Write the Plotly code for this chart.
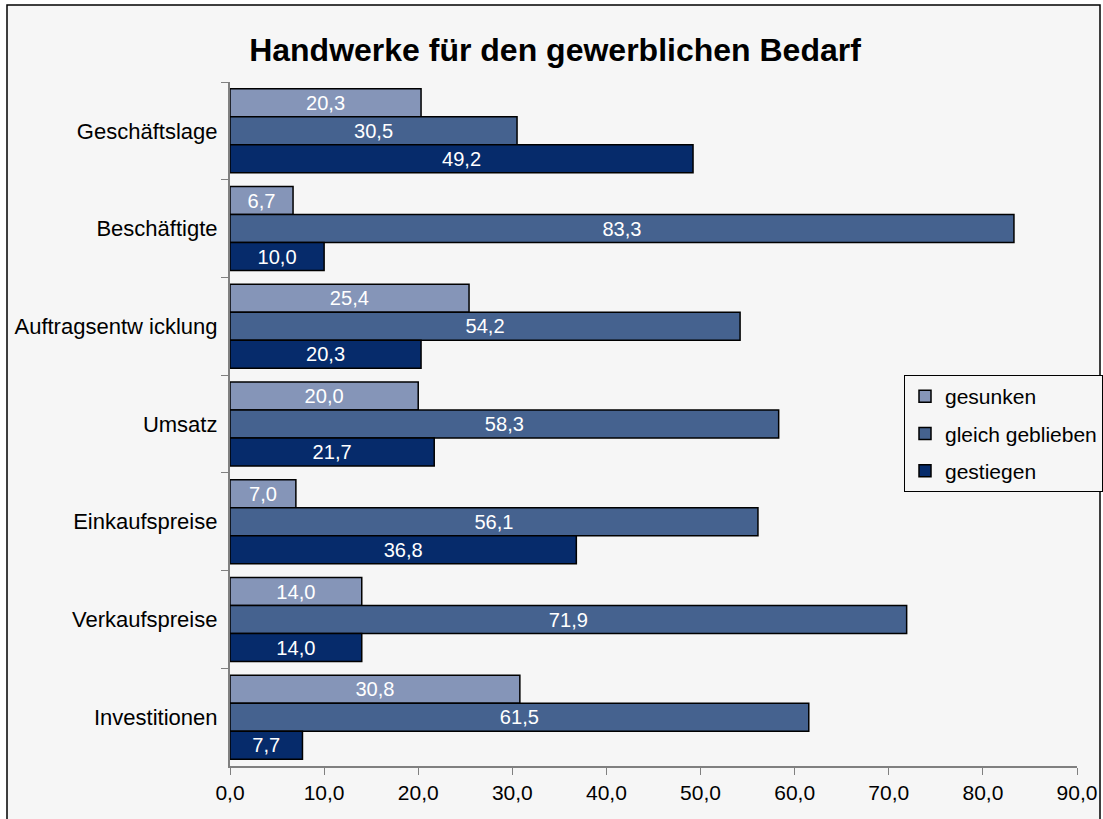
import plotly.graph_objects as go

categories = ["Geschäftslage", "Beschäftigte", "Auftragsentwicklung", "Umsatz",
              "Einkaufspreise", "Verkaufspreise", "Investitionen"]
cat_labels = ["Geschäftslage", "Beschäftigte", "Auftragsentw icklung", "Umsatz",
              "Einkaufspreise", "Verkaufspreise", "Investitionen"]
gesunken = [20.3, 6.7, 25.4, 20.0, 7.0, 14.0, 30.8]
gleich = [30.5, 83.3, 54.2, 58.3, 56.1, 71.9, 61.5]
gestiegen = [49.2, 10.0, 20.3, 21.7, 36.8, 14.0, 7.7]
series_names = ["gesunken", "gleich geblieben", "gestiegen"]
colors = ["#8595B8", "#45628F", "#062B6B"]
x_ticks = [0, 10, 20, 30, 40, 50, 60, 70, 80, 90]
x_tick_labels = ["0,0", "10,0", "20,0", "30,0", "40,0", "50,0", "60,0", "70,0", "80,0", "90,0"]

FONT = "Liberation Sans, Arial, sans-serif"
FS = 21

fig = go.Figure()
for name, vals, col in zip(series_names, [gesunken, gleich, gestiegen], colors):
    fig.add_trace(go.Bar(
        y=cat_labels, x=vals, name=name, orientation="h",
        marker=dict(color=col, line=dict(color="black", width=1.5)),
        text=[f"{v:.1f}".replace(".", ",") for v in vals],
        textposition="inside", insidetextanchor="middle",
        textfont=dict(color="white", size=FS, family=FONT),
        legendgroup=name,
    ))

W, H = 1103, 819
L, R, T, B = 230, 26, 82, 53
pw, ph = W - L - R, H - T - B

def px2x(px):
    return (px - L) / pw

def py2y(py):
    return (H - B - py) / ph

fig.update_layout(
    width=W, height=H,
    margin=dict(l=L, r=R, t=T, b=B, autoexpand=False),
    paper_bgcolor="white",
    plot_bgcolor="rgba(0,0,0,0)",
    barmode="group", bargap=0.14, bargroupgap=0,
    font=dict(family=FONT, color="black", size=FS),
    title=dict(text="<b>Handwerke für den gewerblichen Bedarf</b>",
               x=555 / W, xanchor="center", y=1 - 50 / H, yanchor="middle",
               font=dict(size=32, family=FONT, color="black")),
    xaxis=dict(range=[0, 90], tickvals=x_ticks, ticktext=x_tick_labels,
               showgrid=False, zeroline=False, showline=True, linecolor="#808080",
               linewidth=2, ticks="outside", ticklen=7, tickcolor="#808080",
               tickfont=dict(size=FS, family=FONT), fixedrange=True),
    yaxis=dict(autorange="reversed", showgrid=False, zeroline=False, showline=True,
               linecolor="#808080", linewidth=2, ticks="outside", ticklen=7,
               tickcolor="#808080", tickson="boundaries",
               tickfont=dict(size=22, family=FONT), ticksuffix=" "),
    legend=dict(x=px2x(904), y=py2y(375), xanchor="left", yanchor="top",
                bordercolor="black", borderwidth=1, bgcolor="#F6F6F6",
                font=dict(size=FS, family=FONT), traceorder="grouped",
                tracegroupgap=7, itemwidth=30),
    shapes=[dict(type="rect", xref="paper", yref="paper",
                 x0=px2x(7), x1=px2x(1100), y0=py2y(840), y1=py2y(5),
                 line=dict(color="black", width=1.5), fillcolor="#F6F6F6",
                 layer="below")],
)

fig.write_html("out.html", config={"displayModeBar": False},
               post_script="document.body.style.margin='0';")
